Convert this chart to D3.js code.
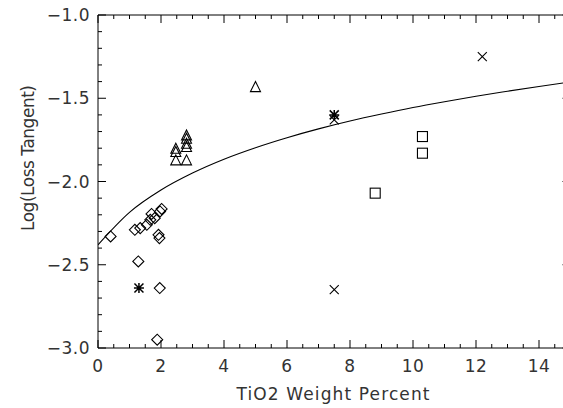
<!DOCTYPE html>
<html><head><meta charset="utf-8">
<script src="https://cdn.jsdelivr.net/npm/d3@7"></script>
<style>html,body{margin:0;padding:0;background:#fff;}svg{display:block;}</style>
</head><body>
<svg id="c" width="563" height="408"></svg>
<script>
// ---- data ----
const diamondX = [0.40, 1.17, 1.34, 1.55, 1.66, 1.70, 1.80, 1.97, 2.02, 1.92, 1.95, 1.28, 1.96, 1.88];
const diamondY = [-2.33, -2.29, -2.28, -2.26, -2.23, -2.195, -2.22, -2.18, -2.165, -2.32, -2.34, -2.48, -2.64, -2.95];
const triangleX = [2.47, 2.47, 2.47, 2.81, 2.81, 2.81, 2.81, 2.81, 5.0];
const triangleY = [-1.80, -1.82, -1.87, -1.72, -1.74, -1.77, -1.79, -1.87, -1.43];
const asteriskX = [1.30, 7.5];
const asteriskY = [-2.64, -1.60];
const crossX = [7.5, 7.5, 12.2];
const crossY = [-1.63, -2.65, -1.25];
const squareX = [10.3, 10.3, 8.8];
const squareY = [-1.73, -1.83, -2.07];
const fitX = [0, 1, 2, 3, 4, 5, 6, 7, 8, 9, 10, 11, 12, 13, 14, 15];
const fitY = [-2.38, -2.185, -2.051, -1.949, -1.866, -1.797, -1.737, -1.684, -1.637, -1.595, -1.556, -1.521, -1.488, -1.458, -1.429, -1.402];
const xTicks = [0, 2, 4, 6, 8, 10, 12, 14];
const yTicks = [-3.0, -2.5, -2.0, -1.5, -1.0];
const xTitle = "TiO2 Weight Percent";
const yTitle = "Log(Loss Tangent)";

const svg = d3.select("#c");
const x = d3.scaleLinear().domain([0, 15]).range([98, 570.5]);
const y = d3.scaleLinear().domain([-3, -1]).range([348, 15]);
const L = x.range()[0], R = x.range()[1], T = y.range()[1], B = y.range()[0];
const font = "'DejaVu Sans', sans-serif";
const txt = "#333";

// axis frame
const g = svg.append("g").attr("stroke", "#000").attr("stroke-width", 1).attr("fill", "none");
g.append("line").attr("x1", L).attr("x2", R).attr("y1", B).attr("y2", B);
g.append("line").attr("x1", L).attr("x2", R).attr("y1", T).attr("y2", T);
g.append("line").attr("x1", L).attr("x2", L).attr("y1", T).attr("y2", B);
g.append("line").attr("x1", R).attr("x2", R).attr("y1", T).attr("y2", B);

const xMinor = d3.range(0, 15.001, 0.5);
const yMinor = d3.range(-3, -0.999, 0.1);
xMinor.forEach(v => {
  const major = Math.abs(v - Math.round(v / 2) * 2) < 1e-6;
  const len = major ? 8 : 4;
  g.append("line").attr("x1", x(v)).attr("x2", x(v)).attr("y1", B).attr("y2", B - len);
  g.append("line").attr("x1", x(v)).attr("x2", x(v)).attr("y1", T).attr("y2", T + len);
});
yMinor.forEach(v => {
  const major = Math.abs(v * 2 - Math.round(v * 2)) < 1e-6;
  const len = major ? 8 : 4;
  g.append("line").attr("x1", L).attr("x2", L + len).attr("y1", y(v)).attr("y2", y(v));
  g.append("line").attr("x1", R).attr("x2", R - len).attr("y1", y(v)).attr("y2", y(v));
});

// tick labels
svg.append("g").selectAll("text").data(xTicks).join("text")
  .attr("x", d => x(d)).attr("y", 372).attr("text-anchor", "middle")
  .attr("font-family", font).attr("font-size", 17).attr("fill", txt)
  .attr("letter-spacing", 0.5)
  .text(d => d3.format("d")(d));
svg.append("g").selectAll("text").data(yTicks).join("text")
  .attr("x", 90).attr("y", d => y(d) + 6).attr("text-anchor", "end")
  .attr("font-family", font).attr("font-size", 17).attr("fill", txt)
  .attr("letter-spacing", 0.5)
  .text(d => d3.format(".1f")(d).replace("-", "\u2212"));
svg.append("text").attr("x", 333).attr("y", 400).attr("text-anchor", "middle")
  .attr("font-family", font).attr("font-size", 17).attr("fill", txt)
  .attr("textLength", 193).attr("lengthAdjust", "spacing").text(xTitle);
svg.append("text").attr("transform", "translate(34,158) rotate(-90)").attr("text-anchor", "middle")
  .attr("font-family", font).attr("font-size", 17).attr("fill", txt)
  .attr("textLength", 146).attr("lengthAdjust", "spacing").text(yTitle);

// fit curve
svg.append("clipPath").attr("id", "pc").append("rect")
  .attr("x", L).attr("y", T).attr("width", R - L).attr("height", B - T);
const line = d3.line().x(d => x(d[0])).y(d => y(d[1])).curve(d3.curveMonotoneX);
svg.append("path").datum(d3.zip(fitX, fitY)).attr("d", line)
  .attr("fill", "none").attr("stroke", "#000").attr("stroke-width", 1.1).attr("clip-path", "url(#pc)");

// markers
const mk = svg.append("g").attr("fill", "none").attr("stroke", "#000").attr("stroke-width", 1.1);
d3.zip(diamondX, diamondY).forEach(([a, b]) => {
  const cx = x(a), cy = y(b), r = 5.5;
  mk.append("path").attr("d", `M${cx - r},${cy}L${cx},${cy - r}L${cx + r},${cy}L${cx},${cy + r}Z`);
});
d3.zip(triangleX, triangleY).forEach(([a, b]) => {
  const cx = x(a), cy = y(b), r = 5;
  mk.append("path").attr("d", `M${cx - r},${cy + r}L${cx},${cy - r}L${cx + r},${cy + r}Z`);
});
d3.zip(squareX, squareY).forEach(([a, b]) => {
  const cx = x(a), cy = y(b), r = 5;
  mk.append("rect").attr("x", cx - r).attr("y", cy - r).attr("width", 2 * r).attr("height", 2 * r);
});
d3.zip(crossX, crossY).forEach(([a, b]) => {
  const cx = x(a), cy = y(b), r = 4.5;
  mk.append("path").attr("d", `M${cx - r},${cy - r}L${cx + r},${cy + r}M${cx - r},${cy + r}L${cx + r},${cy - r}`);
});
d3.zip(asteriskX, asteriskY).forEach(([a, b]) => {
  const cx = x(a), cy = y(b), r = 4.5, h = 5;
  mk.append("path").attr("stroke-width", 1.5)
    .attr("d", `M${cx - r},${cy - r}L${cx + r},${cy + r}M${cx - r},${cy + r}L${cx + r},${cy - r}M${cx - h},${cy}L${cx + h},${cy}M${cx},${cy - h}L${cx},${cy + h}`);
});
</script>
</body></html>
